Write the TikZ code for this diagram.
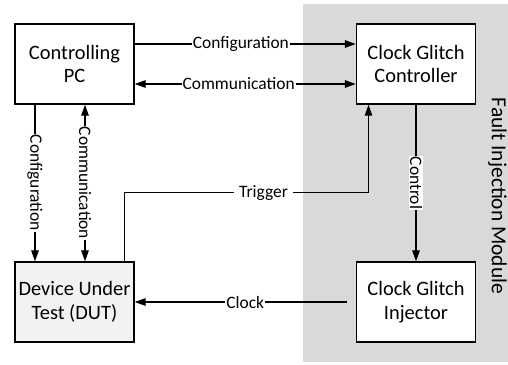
\documentclass[tikz,border=0pt]{standalone}
\usepackage{fontspec}
\setmainfont{Carlito}
\usetikzlibrary{arrows.meta}

\definecolor{modgray}{HTML}{D9D9D9}
\definecolor{dutgray}{HTML}{F2F2F2}

\tikzset{
  blockbox/.style={draw, line width=1.4bp, minimum width=119bp, minimum height=80bp,
    align=center, font=\fontsize{20.5}{24}\selectfont},
  linklbl/.style={fill=white, inner xsep=1bp, inner ysep=1bp, font=\fontsize{17.5}{19}\selectfont},
  link/.style={line width=1.3bp},
}

\begin{document}
\begin{tikzpicture}[x=1bp, y=-1bp, >={Triangle[length=11bp, width=7.5bp]}]
  \useasboundingbox (0,0) rectangle (508,364);

  % === 故障注入模块（灰色背景） ===
  \fill[modgray] (303,4) rectangle (508,362);
  \node[rotate=-90, font=\fontsize{21.5}{24}\selectfont] (fim) at (497.5,196) {Fault Injection Module};

  % 四个模块
  \node[blockbox] (pc) at (74.5,64) {Controlling\\PC};
  \node[blockbox, fill=white] (cgc) at (416,64) {Clock Glitch\\Controller};
  \node[blockbox, fill=dutgray] (dut) at (74.5,302) {Device Under\\Test (DUT)};
  \node[blockbox, fill=white] (cgi) at (416,302) {Clock Glitch\\Injector};

  % === PC 与控制器之间 ===
  \draw[link, ->] ([yshift=20bp]pc.east) -- node[linklbl, pos=0.48] {Configuration} ([yshift=20bp]cgc.west);
  \draw[link, <->] ([yshift=-20bp]pc.east) -- node[linklbl, pos=0.47] {Communication} ([yshift=-20bp]cgc.west);

  % === PC 与 DUT 之间 ===
  \draw[link, ->] ([xshift=-39.5bp]pc.south) -- node[linklbl, rotate=-90] {Configuration} ([xshift=-39.5bp]dut.north);
  \draw[link, <->] ([xshift=10.5bp]pc.south) -- node[linklbl, rotate=-90] {Communication} ([xshift=10.5bp]dut.north);

  % 触发信号
  \coordinate (trigbend) at (368.5,192.5);
  \draw[link, ->] ([xshift=-10.2bp]dut.north east) |- node[linklbl, pos=0.785, inner xsep=5bp] {Trigger} (trigbend)
    -- (trigbend |- cgc.south);

  % 控制与时钟
  \draw[link, ->] (cgc.south) -- node[linklbl, rotate=-90] {Control} (cgi.north);
  \draw[link, ->, shorten <=9bp] (cgi.west) -- node[linklbl] {Clock} (dut.east);
\end{tikzpicture}
\end{document}
